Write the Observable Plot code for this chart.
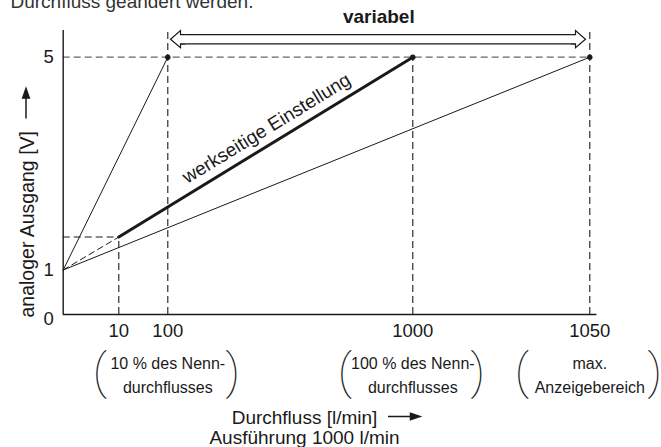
<!DOCTYPE html>
<html><head><meta charset="utf-8">
<script src="https://cdn.jsdelivr.net/npm/d3@7"></script>
<script src="https://cdn.jsdelivr.net/npm/@observablehq/plot@0.6"></script>
<style>
body{margin:0;background:#fff;}
#chart svg{display:block;}
</style></head><body><div id="chart"></div>
<script>
// ---------- data ----------
const xTickValues = [10, 100, 1000, 1050];
const xTickLabels = ["10", "100", "1000", "1050"];
const yTickValues = [0, 1, 5];
const yTickLabels = ["0", "1", "5"];
const flowBreaks = [0, 10, 100, 1000, 1050];   // schematic (non-linear) flow axis
const voltBreaks = [0, 1, 5];
const startVolt = 1;
const maxVolt = 5;
const factoryStartFlow = 10;
const factoryStartVolt = 1.62;
const axisTopVolt = 5.5;
const axisEndFlow = 1052;
const steepLine = [{flow: 0, volt: 1}, {flow: 100, volt: 5}];
const factoryLine = [{flow: 10, volt: 1.62}, {flow: 1000, volt: 5}];
const shallowLine = [{flow: 0, volt: 1}, {flow: 1050, volt: 5}];
const factoryStartDashed = [{flow: 0, volt: 1}, {flow: 10, volt: 1.62}];
const fullScalePoints = [{flow: 100, volt: 5}, {flow: 1000, volt: 5}, {flow: 1050, volt: 5}];
const verticalGuides = [{flow: 10, top: 1.62}, {flow: 100, top: 5.5}, {flow: 1000, top: 5}, {flow: 1050, top: 5.5}];
const variableRange = [100, 1050];
const annotations = [
  {flow: 100, text: "10 % des Nenn-\ndurchflusses"},
  {flow: 1000, text: "100 % des Nenn-\ndurchflusses"},
  {flow: 1050, text: "max.\nAnzeigebereich"}
];
const topText = "Durchfluss geändert werden.";
const yTitle = "analoger Ausgang [V]";
const xTitle = "Durchfluss [l/min]\nAusführung 1000 l/min";
const factoryLabel = "werkseitige Einstellung";
const variableLabel = "variabel";

// ---------- scales ----------
const xOpts = {type: "linear", domain: flowBreaks, range: [62.7, 118.3, 167.3, 412.3, 589.3]};
const yOpts = {type: "linear", domain: voltBreaks, range: [314, 269.5, 56.7]};
const xs = Plot.scale({x: xOpts});
const ys = Plot.scale({y: yOpts});

// label placement derived from the scales
const fx0 = xs.apply(factoryLine[0].flow), fy0 = ys.apply(factoryLine[0].volt);
const fx1 = xs.apply(factoryLine[1].flow), fy1 = ys.apply(factoryLine[1].volt);
const factoryAngle = Math.atan2(fy1 - fy0, fx1 - fx0) * 180 / Math.PI;
const factoryMid = {flow: xs.invert((fx0 + fx1) / 2), volt: ys.invert((fy0 + fy1) / 2)};
const variableMid = xs.invert((xs.apply(variableRange[0]) + xs.apply(variableRange[1])) / 2);

// ---------- glyph symbols ----------
const headLeft = {draw(c) { c.moveTo(15, -4.6); c.lineTo(10, -4.6); c.lineTo(10, -8.6); c.lineTo(0, 0); c.lineTo(10, 8.6); c.lineTo(10, 4.6); c.lineTo(15, 4.6); }};
const headRight = {draw(c) { c.moveTo(-15, -4.6); c.lineTo(-10, -4.6); c.lineTo(-10, -8.6); c.lineTo(0, 0); c.lineTo(-10, 8.6); c.lineTo(-10, 4.6); c.lineTo(-15, 4.6); }};
const arrowUp = {draw(c) { c.moveTo(0, 15); c.lineTo(0, -7); c.moveTo(0, -15); c.lineTo(3.3, -5.5); c.lineTo(-3.3, -5.5); c.closePath(); }};
const arrowRight = {draw(c) { c.moveTo(-16, 0); c.lineTo(8, 0); c.moveTo(16, 0); c.lineTo(6.5, -3.3); c.lineTo(6.5, 3.3); c.closePath(); }};

const ink = "#1a1a1a";
const FONT = "Liberation Sans, Arial, Helvetica, sans-serif";

const chart = Plot.plot({
  width: 661,
  height: 447,
  margin: 0,
  style: {fontFamily: FONT, fontSize: "18px", background: "white", color: ink},
  x: {...xOpts, axis: null},
  y: {...yOpts, axis: null},
  marks: [
    // cut-off text at the top
    Plot.text([topText], {frameAnchor: "top-left", text: d => d, dx: 10, dy: -6, textAnchor: "start", fontSize: 19, fill: "#333"}),
    // dashed guides
    Plot.ruleY([maxVolt], {x1: 0, x2: 1050, stroke: "#666", strokeWidth: 1.3, strokeDasharray: "7,4"}),
    Plot.ruleY([factoryStartVolt], {x1: 0, x2: factoryStartFlow, stroke: ink, strokeWidth: 1.1, strokeDasharray: "7,4"}),
    Plot.ruleX(verticalGuides, {x: "flow", y1: 0, y2: "top", stroke: ink, strokeWidth: 1.1, strokeDasharray: "7,4"}),
    // axes lines
    Plot.ruleY([0], {x1: 0, x2: axisEndFlow, stroke: ink, strokeWidth: 1.4}),
    Plot.ruleX([0], {y1: 0, y2: axisTopVolt, stroke: ink, strokeWidth: 1.4}),
    // characteristic lines
    Plot.line(factoryStartDashed, {x: "flow", y: "volt", stroke: ink, strokeWidth: 1, strokeDasharray: "6,4"}),
    Plot.line(steepLine, {x: "flow", y: "volt", stroke: ink, strokeWidth: 1}),
    Plot.line(shallowLine, {x: "flow", y: "volt", stroke: ink, strokeWidth: 1}),
    Plot.line(factoryLine, {x: "flow", y: "volt", stroke: ink, strokeWidth: 3}),
    Plot.dot(fullScalePoints, {x: "flow", y: "volt", r: 2.7, fill: ink, stroke: "none"}),
    // "variabel" double-line arrow
    Plot.ruleY([maxVolt], {x1: variableRange[0], x2: variableRange[1], dy: -18, insetLeft: 9, insetRight: 9, stroke: ink, strokeWidth: 10.4}),
    Plot.ruleY([maxVolt], {x1: variableRange[0], x2: variableRange[1], dy: -18, insetLeft: 9, insetRight: 9, stroke: "white", strokeWidth: 8}),
    Plot.dot([{flow: variableRange[0], volt: maxVolt}], {x: "flow", y: "volt", dx: 2.7, dy: -18, symbol: headLeft, fill: "white", stroke: ink, strokeWidth: 1.2}),
    Plot.dot([{flow: variableRange[1], volt: maxVolt}], {x: "flow", y: "volt", dx: -4.3, dy: -18, symbol: headRight, fill: "white", stroke: ink, strokeWidth: 1.2}),
    Plot.text([variableLabel], {x: variableMid, y: maxVolt, text: d => d, dy: -40, fontWeight: "bold", fontSize: 19, fill: ink}),
    // factory setting label along the thick line
    Plot.text([factoryLabel], {x: factoryMid.flow, y: factoryMid.volt, text: d => d, dx: 0.7, dy: -18.6, rotate: factoryAngle, fontSize: 19, fill: ink}),
    // tick labels
    Plot.text(xTickValues, {x: d => d, y: 0, text: (d, i) => xTickLabels[i], dy: 17, fontSize: 18.5, fill: ink}),
    Plot.text(yTickValues.slice(1), {x: 0, y: d => d, text: (d, i) => yTickLabels[i + 1], dx: -9.5, textAnchor: "end", fontSize: 18.5, fill: ink}),
    Plot.text([yTickValues[0]], {x: 0, y: d => d, text: () => yTickLabels[0], dx: -9.5, dy: 5, textAnchor: "end", fontSize: 18.5, fill: ink}),
    // annotations under the axis
    Plot.text(annotations, {x: "flow", y: 0, text: "text", dy: 58.5, lineHeight: 1.5, fontSize: 16, fill: ink}),
    Plot.text(annotations, {x: "flow", y: 0, text: () => "(", dx: -68, dy: 58, fontSize: 48, fontFamily: "Roboto", fontWeight: 100, fill: ink}),
    Plot.text(annotations, {x: "flow", y: 0, text: () => ")", dx: 65, dy: 58, fontSize: 48, fontFamily: "Roboto", fontWeight: 100, fill: ink}),
    // axis titles
    Plot.text([yTitle], {x: 0, y: 0, text: d => d, dx: -35.7, dy: 3, rotate: -90, textAnchor: "start", fontSize: 19.5, fill: ink}),
    Plot.dot([0], {x: 0, y: 0, dx: -37.2, dy: -211, symbol: arrowUp, fill: ink, stroke: ink, strokeWidth: 1.5}),
    Plot.text([xTitle], {x: 0, y: 0, text: d => d, dx: 241.3, dy: 113, lineHeight: 1.07, fontSize: 19, fill: ink}),
    Plot.dot([0], {x: 0, y: 0, dx: 340.8, dy: 102, symbol: arrowRight, fill: ink, stroke: ink, strokeWidth: 1.5})
  ]
});
document.getElementById("chart").appendChild(chart);
</script>
</body></html>
